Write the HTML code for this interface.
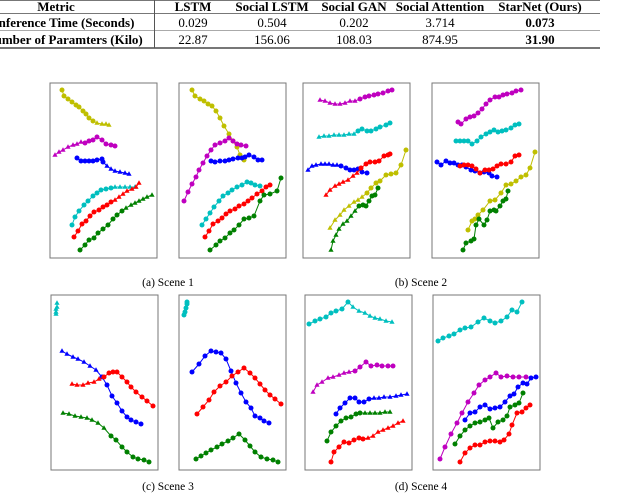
<!DOCTYPE html>
<html><head><meta charset="utf-8">
<style>
body{margin:0;background:#fff;width:640px;height:490px;overflow:hidden;position:relative;font-family:"Liberation Serif",serif;}
.t{position:absolute;font-size:13px;white-space:nowrap;transform:translateX(-50%);line-height:13px;}
.b{font-weight:bold;}
.hl{position:absolute;left:0;width:600px;background:#777;}
.cap{position:absolute;font-size:11.5px;transform:translateX(-50%);white-space:nowrap;}
</style></head><body>
<div>
<div class="hl" style="top:0;height:1px"></div>
<div class="hl" style="top:13px;height:1px"></div>
<div class="hl" style="top:30px;height:1px;background:#aaa"></div>
<div class="hl" style="top:47px;height:2px"></div>
<div style="position:absolute;left:154px;top:0;width:1px;height:48px;background:#555"></div>
<div class="t b" style="left:56px;top:0">Metric</div>
<div class="t b" style="left:193px;top:0">LSTM</div>
<div class="t b" style="left:272px;top:0">Social LSTM</div>
<div class="t b" style="left:354px;top:0">Social GAN</div>
<div class="t b" style="left:440px;top:0">Social Attention</div>
<div class="t b" style="left:540px;top:0">StarNet (Ours)</div>
<div class="t b" style="left:64px;top:16px">Inference Time (Seconds)</div>
<div class="t" style="left:193px;top:16px">0.029</div>
<div class="t" style="left:272px;top:16px">0.504</div>
<div class="t" style="left:354px;top:16px">0.202</div>
<div class="t" style="left:440px;top:16px">3.714</div>
<div class="t b" style="left:540px;top:16px">0.073</div>
<div class="t b" style="left:64px;top:33px">Number of Paramters (Kilo)</div>
<div class="t" style="left:193px;top:33px">22.87</div>
<div class="t" style="left:272px;top:33px">156.06</div>
<div class="t" style="left:354px;top:33px">108.03</div>
<div class="t" style="left:440px;top:33px">874.95</div>
<div class="t b" style="left:540px;top:33px">31.90</div>
</div>
<svg id="fig" width="640" height="490" style="position:absolute;left:0;top:0"></svg>
<div class="cap" style="left:168px;top:277px">(a) Scene 1</div>
<div class="cap" style="left:421px;top:277px">(b) Scene 2</div>
<div class="cap" style="left:168px;top:481px">(c) Scene 3</div>
<div class="cap" style="left:421px;top:481px">(d) Scene 4</div>
<script>
const panels=[
{name:'scene1-gt',x:50,y:83},{name:'scene1-pred',x:179,y:83},
{name:'scene2-gt',x:303,y:83},{name:'scene2-pred',x:432,y:83},
{name:'scene3-gt',x:51,y:295},{name:'scene3-pred',x:179,y:295},
{name:'scene4-gt',x:305,y:295},{name:'scene4-pred',x:433,y:295}];
const colorMap={y:'#bfbf00',m:'#bf00bf',b:'#0000ff',c:'#00bfbf',r:'#ff0000',g:'#008000'};
const series=[
[0,'y','cccccccccctttt',[12,14,18,22,26,29,33,36,39,43,47,52,56,59],[7,13,16,19,22,24,28,31,35,38,40,41,41,42]],
[0,'m','tttttttcccccccc',[5,9,13,18,23,27,31,35,39,43,47,52,56,61,65],[72,69,67,64,62,61,59,60,58,57,54,57,61,62,63]],
[0,'b','cccccccctttttt',[27,31,35,39,43,47,52,53,57,61,65,70,75,79],[75,78,78,78,78,77,76,79,83,86,88,89,90,91]],
[0,'c','cccccccccctttttt',[22,25,29,34,38,43,47,51,56,61,65,70,75,80,85],[142,134,128,122,118,113,110,107,106,105,104,104,104,104,104]],
[0,'r','ccccccccccttttttt',[24,28,32,36,40,44,49,53,57,61,65,69,73,77,82,86,89],[154,148,141,138,133,129,127,124,122,119,117,114,111,108,106,104,100]],
[0,'g','cccccccccctttttttt',[30,35,39,44,48,53,58,63,67,72,76,81,85,89,93,97,102],[167,162,157,155,150,146,142,136,132,128,125,122,120,118,116,114,112]],
[1,'y','cccccccccccccc',[13,16,21,25,29,33,37,41,45,50,54,58,61,65],[7,13,16,18,21,23,28,35,43,51,58,64,72,77]],
[1,'m','cccccccccccccccc',[5,9,13,17,20,24,28,32,36,41,46,50,54,58,62,67],[118,109,101,94,87,80,73,67,62,60,58,55,58,61,62,63]],
[1,'b','ccccccccccccc',[32,36,41,46,50,54,59,63,66,70,75,79,83],[78,79,78,78,77,76,75,75,74,72,74,77,77]],
[1,'c','cccccccccccccc',[23,27,31,35,40,44,49,53,58,63,68,72,76,81],[142,136,130,124,118,113,110,107,104,102,99,100,102,103]],
[1,'r','cccccccccccccccc',[26,30,34,39,43,47,51,56,60,65,69,73,78,83,87,91],[154,148,141,138,135,131,128,126,123,121,118,115,111,108,104,102]],
[1,'g','ccccccccccccccc',[31,37,41,46,51,55,60,65,70,75,81,85,91,98,102],[167,162,158,155,150,147,142,136,135,133,118,112,111,108,95]],
[2,'m','ttttttttcccccccc',[17,22,27,32,37,42,47,52,57,62,66,71,75,80,85,89],[17,18,20,21,21,20,18,18,16,14,13,12,11,10,8,7]],
[2,'c','ttttttttcccccccc',[16,21,26,31,36,41,46,51,55,59,64,68,73,77,83,87],[54,53,53,52,52,52,51,51,48,46,48,48,46,44,42,40]],
[2,'b','ttttttttccccccc',[5,9,13,18,22,26,30,34,38,43,47,51,55,59,64],[87,83,82,81,81,81,82,82,83,85,87,87,86,89,90]],
[2,'r','ttttttttcccccccc',[23,27,32,36,40,45,50,54,58,63,67,72,76,81,85,87],[112,107,103,101,99,97,93,90,85,81,79,79,78,73,72,71]],
[2,'y','ttttttttccccccccc',[27,32,37,41,46,51,55,59,64,68,73,77,83,88,93,98,103],[145,137,132,127,123,119,117,114,110,105,100,98,92,91,90,82,67]],
[2,'g','ttttttttccccccc',[28,30,33,36,40,44,48,52,56,60,63,66,69,72,75],[167,158,152,146,141,138,133,128,123,122,123,118,113,112,105]],
[3,'m','cccccccccccccccc',[26,29,34,38,42,46,50,54,58,63,67,71,75,80,84,89],[39,41,36,34,33,30,26,21,17,14,14,12,11,10,8,7]],
[3,'c','cccccccccccccccc',[24,28,32,36,40,45,49,54,58,62,66,70,74,79,83,87],[58,58,58,58,61,58,54,51,49,47,49,48,47,45,42,41]],
[3,'b','ccccccccccccccc',[5,9,14,18,22,26,30,34,39,43,48,52,57,60,65],[79,82,78,80,80,82,82,84,87,88,90,89,90,93,94]],
[3,'r','ccccccccccccccc',[28,32,36,40,44,48,53,57,61,65,69,74,79,83,87],[83,82,82,83,86,90,87,87,86,83,81,81,79,73,72]],
[3,'y','ccccccccccccccc',[36,40,43,46,51,58,63,69,74,79,84,89,94,98,103],[147,138,136,132,127,118,117,110,102,101,98,94,92,85,69]],
[3,'g','ccccccccccccccc',[31,34,39,42,44,47,52,55,58,62,64,68,71,74,76],[167,160,158,156,142,136,142,137,128,127,128,123,118,116,108]],
[4,'c','ttttt',[5,5,5,6,6],[19,17,14,12,8]],
[4,'b','tttttttccccccccc',[11,16,22,27,33,39,45,51,56,61,66,71,76,80,85,90],[56,59,62,64,67,71,75,82,90,101,108,116,122,125,127,129]],
[4,'r','ttttttccccccccccc',[21,26,32,37,43,48,53,58,62,66,71,76,80,85,91,96,102],[89,90,90,88,87,84,82,78,77,77,82,87,92,97,102,106,111]],
[4,'g','ttttttttcccccccc',[12,18,24,30,36,41,47,53,60,65,71,76,82,87,93,98],[118,119,121,122,123,125,128,133,141,145,152,157,162,164,165,167]],
[5,'c','ccccc',[5,6,7,8,8],[20,17,13,9,7]],
[5,'b','cccccccccccccccc',[13,20,26,32,37,42,47,52,57,62,67,72,76,81,85,90],[77,69,61,56,57,58,64,76,88,98,107,113,121,123,126,128]],
[5,'r','cccccccccccccccc',[18,24,30,35,41,47,53,59,65,71,76,81,86,91,96,102],[119,112,105,97,91,87,81,77,73,78,83,89,95,100,104,109]],
[5,'g','cccccccccccccccc',[17,22,27,32,38,43,49,54,60,66,71,76,82,88,94,99],[164,161,158,155,152,149,146,143,139,145,151,157,162,164,165,167]],
[6,'c','cccccccctttttttt',[4,10,15,21,26,31,37,43,48,54,60,65,70,75,81,87],[29,26,24,22,18,16,14,7,12,16,18,21,23,24,26,27]],
[6,'m','ttttttttcccccccc',[8,12,17,23,28,34,39,44,50,55,61,66,72,77,83,88],[97,90,87,83,82,80,78,77,76,72,67,71,70,71,71,71]],
[6,'b','ccccccccttttttt',[31,35,40,45,50,54,59,64,69,74,79,85,91,96,102],[119,113,108,103,103,107,107,104,103,103,102,102,101,100,99]],
[6,'g','cccccccctttttt',[22,26,31,36,41,46,51,55,60,65,70,75,80,85],[146,137,131,126,123,122,119,118,118,118,118,118,117,117]],
[6,'r','cccccccctttttttt',[26,29,34,39,44,49,54,58,63,68,73,78,83,88,93,98],[167,157,152,147,148,145,143,144,143,141,137,135,133,131,128,126]],
[7,'c','cccccccccccccccc',[5,10,16,21,27,32,38,45,51,57,62,68,74,79,84,89],[46,43,41,39,35,33,32,27,23,26,28,26,22,15,17,7]],
[7,'m','cccccccccccccccc',[7,12,18,24,29,35,41,46,52,57,63,68,74,80,86,93],[164,152,139,128,118,107,98,90,85,82,78,82,81,82,82,82]],
[7,'b','cccccccccccccccc',[32,37,42,47,52,57,62,67,72,77,81,85,90,94,98,103],[125,118,117,112,110,114,113,112,107,101,99,92,88,89,83,82]],
[7,'g','cccccccccccccccc',[22,27,32,37,42,47,52,56,60,65,70,74,77,82,86,90],[149,141,135,131,128,127,125,123,133,127,125,121,112,110,108,98]],
[7,'r','cccccccccccccccc',[27,32,37,42,47,52,57,62,67,71,76,79,84,89,93,97],[167,158,153,150,150,147,146,146,147,145,139,130,118,117,113,110]]
];
const NS='http://www.w3.org/2000/svg';
const svg=document.getElementById('fig');
function sx(p,v){return panels[p].x+v;}
function sy(p,v){return panels[p].y+v;}
panels.forEach(p=>{
  const r=document.createElementNS(NS,'rect');
  r.setAttribute('x',p.x);r.setAttribute('y',p.y);r.setAttribute('width',107);r.setAttribute('height',175);
  r.setAttribute('fill','none');r.setAttribute('stroke','#777');r.setAttribute('stroke-width','1');
  
  
  svg.appendChild(r);
});
series.forEach((s,i)=>{
  const [p,c,pat,xs,ys]=s;const col=colorMap[c];
  const g=document.createElementNS(NS,'g');
  
  
  const pl=document.createElementNS(NS,'polyline');
  pl.setAttribute('points',xs.map((x,k)=>sx(p,x)+','+sy(p,ys[k])).join(' '));
  pl.setAttribute('fill','none');pl.setAttribute('stroke',col);pl.setAttribute('stroke-width','1');
  g.appendChild(pl);
  xs.forEach((x,k)=>{
    const cx=sx(p,x),cy=sy(p,ys[k]);let m;
    if(pat[k]==='t'){m=document.createElementNS(NS,'polygon');
      m.setAttribute('points',`${cx},${cy-2.8} ${cx-2.6},${cy+1.8} ${cx+2.6},${cy+1.8}`);}
    else{m=document.createElementNS(NS,'circle');m.setAttribute('cx',cx);m.setAttribute('cy',cy);m.setAttribute('r',2.5);}
    m.setAttribute('fill',col);
    
    
    g.appendChild(m);
  });
  svg.appendChild(g);
});
</script>
</body></html>
